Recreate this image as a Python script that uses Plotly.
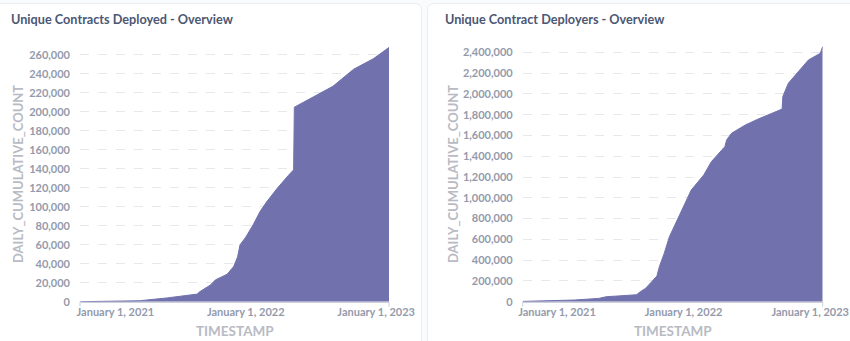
import plotly.graph_objects as go

# ---------------- data ----------------
deployed_dates = [
    "2020-09-25", "2020-12-01", "2021-03-10", "2021-05-26", "2021-07-02",
    "2021-08-18", "2021-08-25", "2021-09-24", "2021-10-08", "2021-11-10",
    "2021-11-28", "2021-12-09", "2021-12-16", "2022-01-01", "2022-01-23",
    "2022-02-10", "2022-02-28", "2022-03-29", "2022-04-30", "2022-05-15",
    "2022-05-17", "2022-09-02", "2022-10-30", "2022-12-24", "2023-02-06",
]
deployed_values = [
    0, 300, 1000, 4000, 6000,
    8000, 10500, 17500, 23000, 29000,
    37000, 47000, 60000, 68000, 82000,
    95000, 105000, 119000, 133000, 139000,
    205000, 227000, 245000, 256000, 268000,
]

deployers_dates = [
    "2020-09-24", "2021-02-20", "2021-05-01", "2021-05-23", "2021-06-25",
    "2021-08-18", "2021-08-29", "2021-09-13", "2021-10-01", "2021-10-16",
    "2021-10-23", "2021-11-06", "2021-11-21", "2021-12-13", "2022-01-01",
    "2022-01-23", "2022-02-28", "2022-03-22", "2022-04-30", "2022-05-05",
    "2022-05-19", "2022-06-28", "2022-08-04", "2022-10-12", "2022-10-14",
    "2022-10-30", "2022-11-28", "2022-12-27", "2023-01-30", "2023-02-03",
    "2023-02-06",
]
deployers_values = [
    3000, 16000, 32000, 48000, 55000,
    67000, 96000, 128000, 193000, 247000,
    337000, 465000, 626000, 787000, 931000,
    1075000, 1220000, 1348000, 1493000, 1557000,
    1621000, 1701000, 1758000, 1854000, 1975000,
    2103000, 2215000, 2327000, 2390000, 2440000,
    2455000,
]

x_ticks = ["2021-01-01", "2022-01-01", "2023-01-01"]
x_tick_text = ["January 1, 2021", "January 1, 2022", "January 1, 2023"]
x_range = ["2020-09-24", "2023-02-06"]

titles = ["Unique Contracts Deployed - Overview", "Unique Contract Deployers - Overview"]
y_title = "DAILY_CUMULATIVE_COUNT"
x_title = "TIMESTAMP"

# ---------------- styling ----------------
W, H = 850, 341
FILL = "#7172AD"
TITLE_C = "#4C5773"
TICK_C = "#949AAB"
AXTITLE_C = "#B8BBC3"
GRID_C = "#E6E8EC"
FONT = "Lato"


def px(x):
    return x / W


def py(y):
    return (H - y) / H


def rounded_rect(x0, y0, x1, y1, r):
    # pixel coords (y downwards) -> paper path
    rx, ry = r / W, r / H
    X0, X1 = px(x0), px(x1)
    Yt, Yb = py(y0), py(y1)
    return (f"M {X0},{Yb} L {X0},{Yt-ry} Q {X0},{Yt} {X0+rx},{Yt} "
            f"L {X1-rx},{Yt} Q {X1},{Yt} {X1},{Yt-ry} L {X1},{Yb} Z")


fig = go.Figure()

fig.add_trace(go.Scatter(
    x=deployed_dates, y=deployed_values, mode="lines",
    line=dict(color=FILL, width=1), fill="tozeroy", fillcolor=FILL,
    xaxis="x", yaxis="y", hoverinfo="skip", showlegend=False))
fig.add_trace(go.Scatter(
    x=deployers_dates, y=deployers_values, mode="lines",
    line=dict(color=FILL, width=1), fill="tozeroy", fillcolor=FILL,
    xaxis="x2", yaxis="y2", hoverinfo="skip", showlegend=False))

xa_common = dict(
    type="date", range=x_range, tickvals=x_ticks, ticktext=x_tick_text,
    showgrid=False, zeroline=False, showline=True, linecolor="#CDD0D8",
    linewidth=1, ticks="", tickfont=dict(family=FONT, size=11, color=TICK_C, weight="bold"),
    ticklabeloverflow="allow", fixedrange=True, automargin=False,
)
ya_common = dict(
    showgrid=True, gridcolor=GRID_C, griddash="dash", gridwidth=1,
    zeroline=False, showline=False, ticks="", tickformat=",",
    tickfont=dict(family=FONT, size=11, color=TICK_C, weight="bold"),
    ticklabelstandoff=9, fixedrange=True, automargin=False,
)

fig.update_layout(
    width=W, height=H, autosize=False,
    margin=dict(l=0, r=0, t=0, b=0, pad=0),
    paper_bgcolor="#F9FBFC", plot_bgcolor="rgba(0,0,0,0)",
    xaxis=dict(domain=[px(80), px(389)], anchor="y", **xa_common),
    yaxis=dict(domain=[py(301.7), py(45.5)], anchor="x", range=[0, 270000],
               dtick=20000, **ya_common),
    xaxis2=dict(domain=[px(522.7), px(822.7)], anchor="y2", **xa_common),
    yaxis2=dict(domain=[py(301.7), py(46.1)], anchor="x2", range=[0, 2460000],
                dtick=200000, **ya_common),
)

shapes = [
    dict(type="path", xref="paper", yref="paper", path=rounded_rect(-5, 3.5, 421.5, 350, 7),
         fillcolor="white", line=dict(color="#EBEDF0", width=1), layer="below"),
    dict(type="path", xref="paper", yref="paper", path=rounded_rect(427.5, 3.5, 860, 350, 7),
         fillcolor="white", line=dict(color="#EBEDF0", width=1), layer="below"),
]
# small tick marks at both ends of each x axis
for xr, yr in (("x domain", "y domain"), ("x2 domain", "y2 domain")):
    for xv in (0, 1):
        shapes.append(dict(type="line", xref=xr, yref=yr, x0=xv, x1=xv,
                           ysizemode="pixel", yanchor=0, y0=0, y1=-5,
                           line=dict(color="#CDD0D8", width=1)))
fig.update_layout(shapes=shapes)

annotations = [
    dict(text=f"<b>{titles[0]}</b>", x=px(9), y=py(19.5), xanchor="left", yanchor="middle"),
    dict(text=f"<b>{titles[1]}</b>", x=px(443), y=py(19.5), xanchor="left", yanchor="middle"),
]
for a in annotations:
    a.update(xref="paper", yref="paper", showarrow=False,
             font=dict(family=FONT, size=12.7, color=TITLE_C))

for xc, yc in ((18, 174), (453, 174)):
    annotations.append(dict(text=f"<b>{y_title}</b>", x=px(xc), y=py(yc), xref="paper", yref="paper",
                            textangle=-90, showarrow=False, xanchor="center", yanchor="middle",
                            font=dict(family=FONT, size=13, color=AXTITLE_C)))
for xc in (235, 672.5):
    annotations.append(dict(text=f"<b>{x_title}</b>", x=px(xc), y=0, xref="paper", yref="paper",
                            showarrow=False, xanchor="center", yanchor="bottom",
                            font=dict(family=FONT, size=13.5, color=AXTITLE_C)))
fig.update_layout(annotations=annotations)

fig.write_html(
    "out.html",
    config={"displayModeBar": False},
    post_script="document.body.style.margin='0';document.body.style.overflow='hidden';",
)
